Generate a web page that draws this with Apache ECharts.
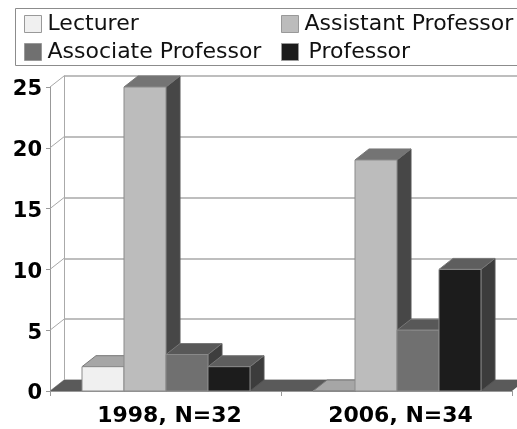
<!DOCTYPE html>
<html>
<head>
<meta charset="utf-8">
<style>
  html, body { margin: 0; padding: 0; background: #fff; }
  #chart { width: 517px; height: 429px; filter: blur(0.5px); }
</style>
<script src="https://cdn.jsdelivr.net/npm/echarts@6/dist/echarts.min.js"></script>
</head>
<body>
<div id="chart"></div>
<script>
// values
var categories = ['1998, N=32', '2006, N=34'];
var lecturer = [2, 0];
var assistantProfessor = [25, 19];
var associateProfessor = [3, 5];
var professor = [2, 10];
var yTicks = [0, 5, 10, 15, 20, 25];

// depth of the fake 3d, in pixels
var DX = 14, DY = 11;
var BAR_W = 42;

var FONT = 'DejaVu Sans';

function pts(a) { return { points: a }; }

// one bar: side and top faces first, front face last
function barItem(slot, front, top, side) {
  return function (params, api) {
    var base = api.coord([api.value(0), 0]);
    var head = api.coord([api.value(0), api.value(1)]);
    var x0 = base[0] + (slot - 2) * BAR_W + 0.5;
    var x1 = x0 + BAR_W;
    var y0 = base[1], y1 = head[1];
    return {
      type: 'group',
      children: [
        { type: 'polygon', shape: pts([[x1, y0], [x1 + DX, y0 - DY], [x1 + DX, y1 - DY], [x1, y1]]),
          style: { fill: side, stroke: '#555', lineWidth: 1 } },
        { type: 'polygon', shape: pts([[x0, y1], [x0 + DX, y1 - DY], [x1 + DX, y1 - DY], [x1, y1]]),
          style: { fill: top, stroke: '#777', lineWidth: 1 } },
        { type: 'rect', shape: { x: x0, y: y1, width: BAR_W, height: y0 - y1 },
          style: { fill: front, stroke: '#8a8a8a', lineWidth: 1 } }
      ]
    };
  };
}

function barSeries(name, values, slot, front, top, side) {
  return {
    name: name,
    type: 'custom',
    xAxisIndex: 0,
    yAxisIndex: 0,
    clip: false,
    z: 3 + slot,
    itemStyle: { color: front },
    renderItem: barItem(slot, front, top, side),
    data: values.map(function (v, i) { return [i, v]; })
  };
}

// dark floor under the bars
var floorSeries = {
  type: 'custom', xAxisIndex: 0, yAxisIndex: 0, clip: false, z: 2, silent: true,
  renderItem: function (params, api) {
    var a = api.coord([0, 0]);
    var half = api.size([1, 0])[0] / 2;
    var x0 = a[0] - half, x1 = x0 + half * 4, y = a[1];
    return { type: 'polygon', shape: pts([[x0, y], [x1, y], [x1 + DX, y - DY], [x0 + DX, y - DY]]),
      style: { fill: '#5a5a5a' } };
  },
  data: [[0, 0]]
};

// slanted lines of the left wall, one per tick
var wallSeries = {
  type: 'custom', xAxisIndex: 0, yAxisIndex: 0, clip: false, z: 1, silent: true,
  renderItem: function (params, api) {
    var a = api.coord([0, api.value(0)]);
    var x = a[0] - api.size([1, 0])[0] / 2;
    return { type: 'line', shape: { x1: x, y1: a[1], x2: x + DX, y2: a[1] - DY },
      style: { stroke: '#a8a8a8', lineWidth: 1 } };
  },
  data: yTicks.map(function (v) { return [v]; })
};

function legendAt(left, top, names, textPad) {
  return {
    orient: 'vertical', icon: 'rect', left: left, top: top, data: names,
    itemWidth: 17, itemHeight: 17, itemGap: 6, padding: 0, selectedMode: false,
    itemStyle: { borderColor: '#999', borderWidth: 1 },
    textStyle: { fontFamily: FONT, fontSize: 22, color: '#111', padding: [0, 0, 0, textPad] }
  };
}

var chart = echarts.init(document.getElementById('chart'), null, { renderer: 'canvas' });
chart.setOption({
  animation: false,
  backgroundColor: '#fff',
  graphic: [{
    type: 'rect', z: 0, silent: true,
    shape: { x: 15.5, y: 8.5, width: 520, height: 57 },
    style: { fill: '#fff', stroke: '#8c8c8c', lineWidth: 1 }
  }],
  legend: [
    legendAt(24, 13, ['Lecturer', 'Associate Professor'], 1),
    legendAt(281, 13, ['Assistant Professor'], 1),
    legendAt(281, 41, ['Professor'], 5)
  ],
  grid: [
    { left: 50, top: 87, width: 462, height: 304 },
    { left: 50 + DX, top: 87 - DY, width: 462, height: 304 }
  ],
  xAxis: [{
    type: 'category', gridIndex: 0, data: categories,
    axisLine: { lineStyle: { color: '#999', width: 1 } },
    axisTick: { show: true, length: 5, lineStyle: { color: '#999' } },
    axisLabel: { fontFamily: FONT, fontWeight: 'bold', fontSize: 22, color: '#000', margin: 14, padding: [0, 0, 0, 8] }
  }, {
    type: 'category', gridIndex: 1, data: categories, show: false
  }],
  yAxis: [{
    type: 'value', gridIndex: 0, min: 0, max: 25, interval: 5,
    axisLine: { show: true, lineStyle: { color: '#999', width: 1 } },
    axisTick: { show: true, length: 4, lineStyle: { color: '#999' } },
    splitLine: { show: false },
    axisLabel: { fontFamily: FONT, fontWeight: 'bold', fontSize: 21, color: '#000', margin: 8,
      verticalAlign: 'top', lineHeight: 6 }
  }, {
    type: 'value', gridIndex: 1, min: 0, max: 25, interval: 5,
    axisLine: { show: true, lineStyle: { color: '#aaa', width: 1 } },
    axisTick: { show: false },
    axisLabel: { show: false },
    splitLine: { show: true, lineStyle: { color: '#a8a8a8', width: 1.5 } }
  }],
  series: [
    wallSeries,
    floorSeries,
    barSeries('Lecturer', lecturer, 0, '#f0f0f0', '#a6a6a6', '#8c8c8c'),
    barSeries('Assistant Professor', assistantProfessor, 1, '#bcbcbc', '#747474', '#474747'),
    barSeries('Associate Professor', associateProfessor, 2, '#707070', '#585858', '#3e3e3e'),
    barSeries('Professor', professor, 3, '#1c1c1c', '#5e5e5e', '#3c3c3c')
  ]
});
</script>
</body>
</html>
